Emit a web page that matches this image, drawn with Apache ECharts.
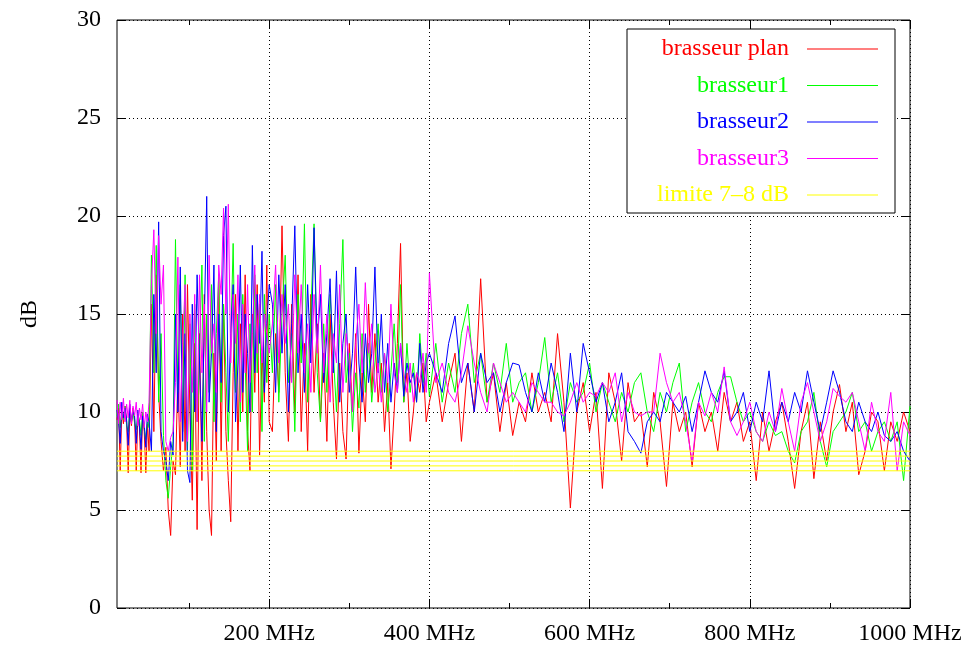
<!DOCTYPE html>
<html>
<head>
<meta charset="utf-8">
<script src="https://cdn.jsdelivr.net/npm/echarts@6/dist/echarts.min.js"></script>
<style>html,body{margin:0;padding:0;background:#fff}#c{width:971px;height:648px}</style>
</head>
<body>
<div id="c"></div>
<script>
// Frequencies (MHz)
const freqs = [
10,12,14,16,18,20,22,24,26,28,30,32,34,36,38,40,42,44,46,48,
50,53,56,59,62,65,68,71,74,77,80,83,86,89,92,95,98,101,104,107,110,113,116,119,122,125,128,131,134,137,140,143,146,149,152,155,158,161,164,167,170,173,176,179,182,185,188,191,194,197,200,
204,208,212,216,220,224,228,232,236,240,244,248,252,256,260,264,268,272,276,280,284,288,292,296,300,304,308,312,316,320,324,328,332,336,340,344,348,352,356,360,364,368,372,376,380,384,388,392,396,400,
408,416,424,432,440,448,456,464,472,480,488,496,504,512,520,528,536,544,552,560,568,576,584,592,600,608,616,624,632,640,648,656,664,672,680,688,696,704,712,720,728,736,744,752,760,768,776,784,792,800,808,816,824,832,840,848,856,864,872,880,888,896,904,912,920,928,936,944,952,960,968,976,984,992,1000
];

const brasseurPlan = [
9.6,10.2,7.0,10.1,9.4,10.3,9.5,6.9,10.0,9.3,10.2,9.6,7.0,9.8,9.2,6.9,9.9,9.0,6.9,9.4,
8.0,15.5,9.0,17.0,11.0,8.5,7.0,8.2,5.0,3.7,7.5,6.8,12.0,7.2,15.0,8.0,16.5,10.0,5.5,13.5,4.0,14.0,6.5,16.0,9.0,5.0,3.7,13.0,7.5,17.0,8.0,15.5,9.0,6.5,4.4,12.0,16.0,8.0,14.5,10.0,17.0,9.0,7.0,15.0,11.0,16.5,7.8,13.0,10.5,17.5,9.5,
9.0,14.0,11.0,19.5,12.0,8.5,15.5,10.0,17.0,9.0,13.5,8.0,16.0,11.0,14.5,9.5,13.0,8.5,15.0,10.5,7.6,12.5,9.0,7.6,13.5,10.0,14.0,7.9,12.0,9.5,15.5,11.0,14.0,10.5,12.5,9.0,11.5,7.1,10.0,13.5,18.6,10.5,12.0,8.5,10.0,12.0,11.0,12.5,9.5,10.5,
12.0,9.5,11.5,13.0,8.5,12.5,10.0,16.8,10.5,12.0,9.0,11.5,8.8,10.5,9.5,12.0,10.0,11.0,9.5,14.0,10.5,5.1,10.0,11.5,9.0,11.0,6.1,12.0,10.5,7.5,11.5,9.5,10.0,7.2,11.0,9.5,6.2,10.5,9.0,10.0,7.2,10.5,9.0,10.0,8.0,11.0,9.5,10.5,8.5,9.5,6.5,10.0,8.0,9.5,10.5,8.5,6.1,9.0,10.5,6.6,9.5,7.5,10.0,11.4,9.0,10.5,6.8,8.0,10.0,9.5,7.0,9.5,8.5,10.0,9.0
];

const brasseur1 = [
9.8,10.4,9.2,10.0,9.6,10.3,9.3,9.0,10.2,9.5,10.1,9.4,9.1,9.9,9.6,8.8,10.0,9.2,8.6,9.6,
9.2,18.0,12.0,18.5,10.5,14.0,8.8,6.5,5.6,7.2,8.5,18.8,11.0,16.5,9.0,17.0,8.0,14.5,7.0,15.5,9.5,13.0,17.5,8.5,15.0,11.0,16.5,9.5,14.0,17.0,10.5,15.5,12.0,8.5,13.5,18.6,11.0,15.0,9.5,16.0,12.5,8.0,14.5,10.0,17.0,12.0,15.5,9.0,16.0,11.5,15.0,
12.0,16.5,10.5,15.0,18.0,11.5,14.0,9.0,16.0,12.5,19.6,10.5,15.0,19.6,12.0,9.5,14.5,11.0,16.0,13.0,10.0,14.5,18.8,11.5,13.0,9.0,12.0,10.2,14.0,11.0,13.5,10.5,12.5,14.5,11.0,13.0,10.0,12.0,14.5,11.5,16.5,10.5,13.5,11.0,12.5,10.5,14.0,11.5,13.0,10.8,
13.5,10.5,12.5,11.0,14.0,15.5,11.5,13.0,10.5,12.5,11.0,13.5,10.5,11.5,12.0,10.0,11.5,13.8,10.5,12.0,9.5,11.5,10.5,11.0,12.5,10.0,11.5,10.5,9.5,11.0,10.0,11.5,12.0,10.0,9.0,11.0,10.0,11.5,12.5,9.0,10.5,11.5,10.0,9.5,11.0,11.8,11.8,10.5,9.5,10.0,9.0,8.5,9.5,8.8,9.0,8.0,7.4,9.0,9.5,11.0,8.5,7.2,9.0,9.5,10.0,11.0,9.0,9.5,8.0,9.0,9.5,8.5,9.5,6.5,10.3
];

const brasseur2 = [
10.1,9.5,8.4,10.5,9.7,10.2,9.6,8.3,10.4,9.5,10.0,9.8,8.4,10.1,9.3,8.1,9.8,9.4,8.2,9.9,
9.5,8.0,16.0,12.0,19.7,9.0,8.0,7.5,6.5,8.5,7.8,15.0,10.0,17.4,8.5,14.0,7.0,6.4,15.5,10.0,17.0,12.5,8.5,14.5,21.0,10.5,13.0,17.5,9.0,15.0,11.5,19.0,20.5,10.0,14.0,16.5,9.5,12.5,17.5,11.0,15.0,13.0,10.0,18.5,12.0,16.0,13.5,18.2,11.0,14.5,16.5,
15.5,11.0,17.0,13.0,16.5,10.0,14.5,19.5,12.0,15.0,11.0,16.5,12.5,19.4,13.5,16.0,11.5,14.0,16.8,12.0,17.2,10.5,13.5,15.0,11.0,13.0,17.4,12.5,10.5,14.0,11.5,13.0,17.4,12.0,15.0,11.0,13.5,10.5,12.5,11.0,13.5,10.8,12.5,11.5,12.0,10.5,13.5,11.0,12.5,13.0,
12.0,11.0,13.5,14.9,11.5,12.5,10.0,13.0,11.5,12.0,10.0,11.5,12.5,12.4,11.0,10.0,12.0,10.5,12.5,11.0,9.0,13.0,10.0,13.5,12.0,10.5,11.5,9.5,10.5,12.0,9.0,8.5,7.9,9.5,10.0,9.5,11.0,10.5,10.0,10.8,9.0,10.5,12.1,11.0,10.5,12.1,9.5,10.0,11.0,9.0,10.5,9.5,12.1,9.0,10.5,9.5,11.0,10.0,12.1,10.5,9.0,10.5,12.1,11.0,9.5,9.0,10.5,9.5,9.0,10.0,8.8,8.5,9.0,8.0,7.5
];

const brasseur3 = [
10.6,9.4,10.5,9.6,10.7,9.5,10.4,9.7,10.6,9.4,10.3,9.8,10.5,9.3,10.2,9.6,10.4,9.2,10.0,9.5,
10.5,16.5,19.3,14.0,19.0,15.5,17.5,8.5,8.0,8.7,9.0,11.5,17.9,9.5,13.5,16.5,8.5,15.0,11.0,16.0,9.5,17.0,12.0,15.5,10.0,18.0,13.0,14.5,11.0,17.5,16.0,20.4,15.0,20.6,12.5,16.0,13.5,17.0,10.5,15.5,12.0,16.5,11.5,14.0,17.5,13.0,16.0,12.5,15.0,14.0,13.0,
14.5,17.5,12.5,16.0,13.5,15.5,11.5,17.0,13.0,16.5,12.0,14.5,11.0,16.0,13.0,17.5,12.0,15.0,10.5,14.0,12.5,16.5,11.0,14.0,12.5,10.0,13.5,15.5,12.0,16.6,13.0,14.5,11.0,12.5,10.5,13.0,11.5,15.5,12.0,11.0,13.5,12.0,11.0,12.5,10.5,12.0,11.5,13.0,11.0,17.1,
11.5,12.5,11.0,10.5,12.0,14.4,12.5,11.0,10.0,12.5,11.5,10.5,11.0,10.5,10.0,11.5,11.0,10.5,10.5,10.0,9.8,10.5,11.5,10.5,11.0,10.8,11.5,11.0,12.0,9.5,11.0,10.0,9.8,10.0,10.0,13.0,11.5,10.5,11.0,9.5,7.5,10.5,9.8,11.0,10.0,12.3,9.5,8.8,9.5,10.5,9.0,8.5,10.0,9.0,11.2,9.5,8.0,10.5,11.5,10.0,8.5,9.5,11.2,10.8,10.5,11.0,9.5,8.0,10.5,9.0,8.5,11.0,7.0,9.5,8.8
];

const limitLevels = [7, 7.25, 7.5, 7.75, 8];
const xRange = [10, 1000];
const xMajor = [200, 400, 600, 800, 1000];
const xMinor = [100, 300, 500, 700, 900];
const seriesNames = ['brasseur plan', 'brasseur1', 'brasseur2', 'brasseur3', 'limite 7–8 dB'];
const seriesColors = ['#ff0000', '#00ff00', '#0000ff', '#ff00ff', '#ffff00'];

const FONT = "'Liberation Serif','Times New Roman',serif";
const FS = 24;
const pair = vals => freqs.map((f, i) => [f, vals[i]]);

const lineSeries = [brasseurPlan, brasseur1, brasseur2, brasseur3].map((vals, k) => ({
  name: seriesNames[k], type: 'line', data: pair(vals),
  xAxisIndex: 0, yAxisIndex: 0,
  symbol: 'none', showSymbol: false,
  lineStyle: { width: 1, color: seriesColors[k] },
  itemStyle: { color: seriesColors[k] },
  animation: false
}));
const limitSeries = limitLevels.map(l => ({
  name: seriesNames[4], type: 'line', data: [[xRange[0], l], [xRange[1], l]],
  xAxisIndex: 0, yAxisIndex: 0,
  symbol: 'none', showSymbol: false,
  lineStyle: { width: 1, color: seriesColors[4] },
  itemStyle: { color: seriesColors[4] },
  animation: false
}));

const dotted = { show: true, lineStyle: { color: '#000', width: 1, type: [1, 3] } };
const tickStyle = { color: '#000', width: 1 };
// thin horizontal bar icon, with tiny anchors so it keeps the full icon box
const lineIcon = 'path://M0,0h0.05v0.05h-0.05z M0,6.5h71v1h-71z M70.95,13.95h0.05v0.05h-0.05z';

const chart = echarts.init(document.getElementById('c'), null, { renderer: 'canvas' });
chart.setOption({
  animation: false,
  backgroundColor: '#fff',
  grid: { left: 117, right: 61, top: 20, bottom: 40, show: true, borderColor: '#000', borderWidth: 1, backgroundColor: 'transparent' },
  legend: {
    orient: 'vertical', align: 'right', right: 76, top: 29,
    backgroundColor: '#fff', borderColor: '#000', borderWidth: 1,
    padding: [8, 17, 6, 30],
    itemWidth: 71, itemHeight: 14, itemGap: 12.5,
    icon: lineIcon,
    textStyle: { fontFamily: FONT, fontSize: FS, padding: [0, 13, 0, 0] },
    data: seriesNames.map((n, i) => ({ name: n, textStyle: { color: seriesColors[i] } }))
  },
  xAxis: [
    { type: 'value', min: xRange[0], max: xRange[1], position: 'bottom',
      axisLine: { show: false },
      axisTick: { show: true, inside: true, length: 9, customValues: xMajor, lineStyle: tickStyle },
      axisLabel: { customValues: xMajor, formatter: v => v + ' MHz', fontFamily: FONT, fontSize: FS, color: '#000', margin: 14 },
      splitLine: dotted },
    { type: 'value', min: xRange[0], max: xRange[1], position: 'bottom',
      axisLine: { show: false },
      axisTick: { show: true, inside: true, length: 5, customValues: xMinor, lineStyle: tickStyle },
      axisLabel: { show: false }, splitLine: { show: false } },
    { type: 'value', min: xRange[0], max: xRange[1], position: 'top',
      axisLine: { show: false },
      axisTick: { show: true, inside: true, length: 9, customValues: xMajor, lineStyle: tickStyle },
      axisLabel: { show: false }, splitLine: { show: false } },
    { type: 'value', min: xRange[0], max: xRange[1], position: 'top',
      axisLine: { show: false },
      axisTick: { show: true, inside: true, length: 5, customValues: xMinor, lineStyle: tickStyle },
      axisLabel: { show: false }, splitLine: { show: false } }
  ],
  yAxis: [
    { type: 'value', min: 0, max: 30, interval: 5, position: 'left',
      name: 'dB', nameLocation: 'middle', nameGap: 75, nameRotate: 90,
      nameTextStyle: { fontFamily: FONT, fontSize: FS, color: '#000' },
      axisLine: { show: false },
      axisTick: { show: true, inside: true, length: 9, lineStyle: tickStyle },
      axisLabel: { fontFamily: FONT, fontSize: FS, color: '#000', margin: 16 },
      splitLine: dotted },
    { type: 'value', min: 0, max: 30, interval: 5, position: 'right',
      axisLine: { show: false },
      axisTick: { show: true, inside: true, length: 9, lineStyle: tickStyle },
      axisLabel: { show: false }, splitLine: { show: false } }
  ],
  series: lineSeries.concat(limitSeries)
});
</script>
</body>
</html>
